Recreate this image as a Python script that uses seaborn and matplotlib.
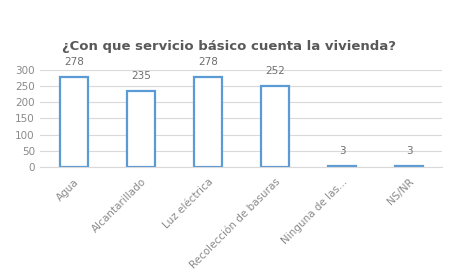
import matplotlib
matplotlib.use("Agg")
import matplotlib.pyplot as plt
import seaborn as sns
import pandas as pd

categorias = ['Agua', 'Alcantarillado', 'Luz eléctrica', 'Recolección de basuras',
              'Ninguna de las...', 'NS/NR']
valores = [278, 235, 278, 252, 3, 3]
yticks = [0, 50, 100, 150, 200, 250, 300]

df = pd.DataFrame({'cat': categorias, 'n': valores})

sns.set_style("white")
plt.rcParams['font.family'] = ['DejaVu Sans']

fig = plt.figure(figsize=(4.49, 2.8), dpi=100)
ax = fig.add_axes([0.090, 0.404, 0.8955, 0.346])

sns.barplot(data=df, x='cat', y='n', ax=ax, color='white', edgecolor='#5B9BD5',
            linewidth=1.6, width=0.42, saturation=1)

for i, v in enumerate(valores):
    ax.annotate(str(v), (i, v), xytext=(0, 7), textcoords='offset points',
                ha='center', va='bottom', fontsize=7.5, color='#6f6f6f', annotation_clip=False)

ax.set_ylim(0, 300)
ax.set_xlim(-0.5, len(categorias) - 0.5)
ax.set_yticks(yticks)
ax.set_yticklabels([str(t) for t in yticks], fontsize=7.5, color='#8a8a8a')
ax.set_xticks(range(len(categorias)))
ax.set_xticklabels(categorias, rotation=45, ha='right', rotation_mode='anchor',
                   fontsize=7.5, color='#8a8a8a')
ax.tick_params(axis='y', length=0, pad=4)
ax.tick_params(axis='x', length=0, pad=7)
ax.grid(axis='y', color='#d9d9d9', linewidth=0.8)
ax.set_axisbelow(True)
for s in ['top', 'right', 'left']:
    ax.spines[s].set_visible(False)
ax.spines['bottom'].set_color('#d9d9d9')
ax.set_xlabel('')
ax.set_ylabel('')

fig.text(0.51, 0.835, '¿Con que servicio básico cuenta la vivienda?', ha='center', va='center',
         fontsize=9.5, fontweight='bold', color='#595959')

fig.savefig('out.png', dpi=100, facecolor='white')
